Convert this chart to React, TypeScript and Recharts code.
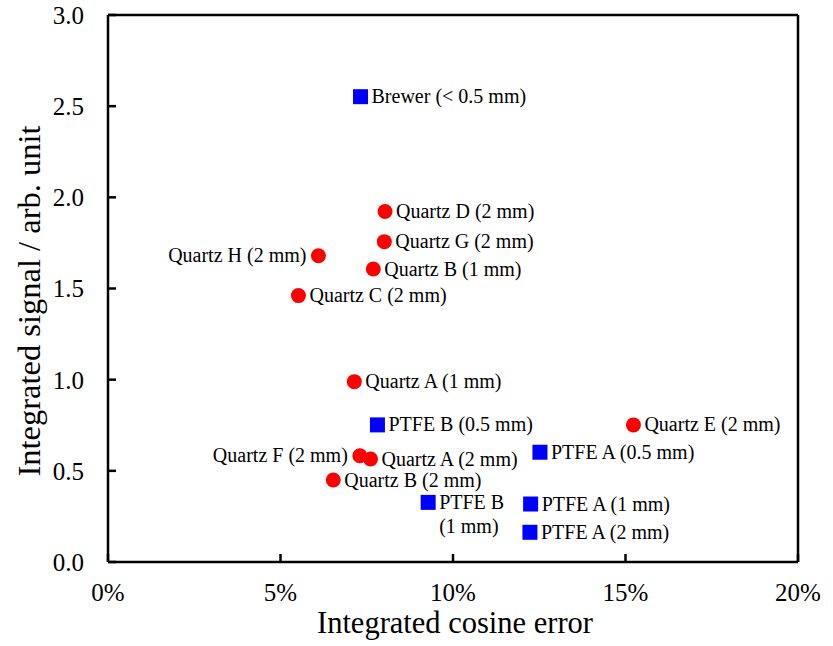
import { Scatter, ScatterChart, XAxis, YAxis } from "recharts"

// Quartz diffusers (red circles)
const quartzLabels = [
  "Quartz D (2 mm)",
  "Quartz G (2 mm)",
  "Quartz H (2 mm)",
  "Quartz B (1 mm)",
  "Quartz C (2 mm)",
  "Quartz A (1 mm)",
  "Quartz E (2 mm)",
  "Quartz F (2 mm)",
  "Quartz A (2 mm)",
  "Quartz B (2 mm)",
]
const quartzX = [8.03, 8.01, 6.1, 7.69, 5.52, 7.14, 15.23, 7.3, 7.61, 6.53]
const quartzY = [1.922, 1.757, 1.68, 1.607, 1.461, 0.989, 0.752, 0.583, 0.565, 0.45]

// PTFE / Brewer diffusers (blue squares)
const ptfeLabels = [
  "Brewer (< 0.5 mm)",
  "PTFE B (0.5 mm)",
  "PTFE A (0.5 mm)",
  "PTFE B\n(1 mm)",
  "PTFE A (1 mm)",
  "PTFE A (2 mm)",
]
const ptfeX = [7.32, 7.81, 12.52, 9.28, 12.25, 12.23]
const ptfeY = [2.552, 0.752, 0.602, 0.327, 0.318, 0.163]

// labels drawn on the left side of their marker
const leftLabelled = ["Quartz H (2 mm)", "Quartz F (2 mm)"]

const xTicks = [0, 5, 10, 15, 20]
const yTicks = [0, 0.5, 1, 1.5, 2, 2.5, 3]
const rightTicks = [0, 0.5, 1, 1.5, 2, 2.5, 3, 3.5]

const quartz = quartzLabels.map((label, i) => ({ label, x: quartzX[i], y: quartzY[i] }))
const ptfe = ptfeLabels.map((label, i) => ({ label, x: ptfeX[i], y: ptfeY[i] }))

const FONT = "Liberation Serif, DejaVu Serif, serif"

function Marker(props: any) {
  const { cx, cy, payload, kind } = props
  if (cx == null || cy == null) return null
  const label: string = payload.label
  const lines = label.split("\n")
  const left = leftLabelled.includes(label)
  return (
    <g>
      {kind === "circle" ? (
        <circle cx={cx} cy={cy} r={7.5} fill="#ff0000" />
      ) : (
        <rect x={cx - 7.5} y={cy - 7.5} width={15} height={15} fill="#0000ff" />
      )}
      {lines.map((line, i) => (
        <text
          key={i}
          x={left ? cx - 12 : cx + 11}
          y={cy + i * 24}
          dy="0.33em"
          textAnchor={left ? "end" : "start"}
          style={{ fontFamily: FONT, fontSize: 20 }}
          fill="#000"
        >
          {line}
        </text>
      ))}
    </g>
  )
}

const axisStyle = { stroke: "#000", strokeWidth: 2.5 }
const tickStyle = { fill: "#000", fontFamily: FONT, fontSize: 25 }

export default function App() {
  return (
    <div
      style={{
        position: "absolute",
        left: 0,
        top: 0,
        width: 833,
        height: 646,
        background: "#fff",
        fontFamily: FONT,
      }}
    >
      <ScatterChart width={833} height={646} margin={{ top: 0, right: 0, bottom: 0, left: 0 }}>
        <XAxis
          xAxisId="bottom"
          dataKey="x"
          type="number"
          domain={[0, 20]}
          ticks={xTicks}
          height={84}
          tickSize={-8}
          tickMargin={29}
          axisLine={axisStyle}
          tickLine={axisStyle}
          tick={tickStyle}
          tickFormatter={(v) => `${v}%`}
          label={{
            content: ({ viewBox }: any) => (
              <text
                x={viewBox.x + viewBox.width / 2 + 2}
                y={633}
                textAnchor="middle"
                style={{ fontFamily: FONT, fontSize: 30.5 }}
                fill="#000"
              >
                Integrated cosine error
              </text>
            ),
          }}
        />
        <XAxis
          xAxisId="top"
          orientation="top"
          type="number"
          domain={[0, 20]}
          ticks={xTicks}
          height={15}
          tickSize={-8}
          axisLine={axisStyle}
          tickLine={axisStyle}
          tick={false}
        />
        <YAxis
          yAxisId="left"
          dataKey="y"
          type="number"
          domain={[0, 3]}
          ticks={yTicks}
          width={108}
          tickSize={-8}
          tickMargin={32}
          axisLine={axisStyle}
          tickLine={axisStyle}
          tick={tickStyle}
          tickFormatter={(v) => v.toFixed(1)}
          label={{
            content: () => (
              <text
                x={0}
                y={0}
                transform="translate(40, 301) rotate(-90)"
                textAnchor="middle"
                style={{ fontFamily: FONT, fontSize: 32.5 }}
                fill="#000"
              >
                Integrated signal / arb. unit
              </text>
            ),
          }}
        />
        <YAxis
          yAxisId="right"
          orientation="right"
          type="number"
          domain={[0, 3.5]}
          ticks={rightTicks}
          width={35}
          tickSize={-8}
          axisLine={axisStyle}
          tickLine={axisStyle}
          tick={false}
        />
        <Scatter
          xAxisId="bottom"
          yAxisId="left"
          data={quartz}
          isAnimationActive={false}
          shape={(p: any) => <Marker {...p} kind="circle" />}
        />
        <Scatter
          xAxisId="bottom"
          yAxisId="left"
          data={ptfe}
          isAnimationActive={false}
          shape={(p: any) => <Marker {...p} kind="square" />}
        />
      </ScatterChart>
    </div>
  )
}
